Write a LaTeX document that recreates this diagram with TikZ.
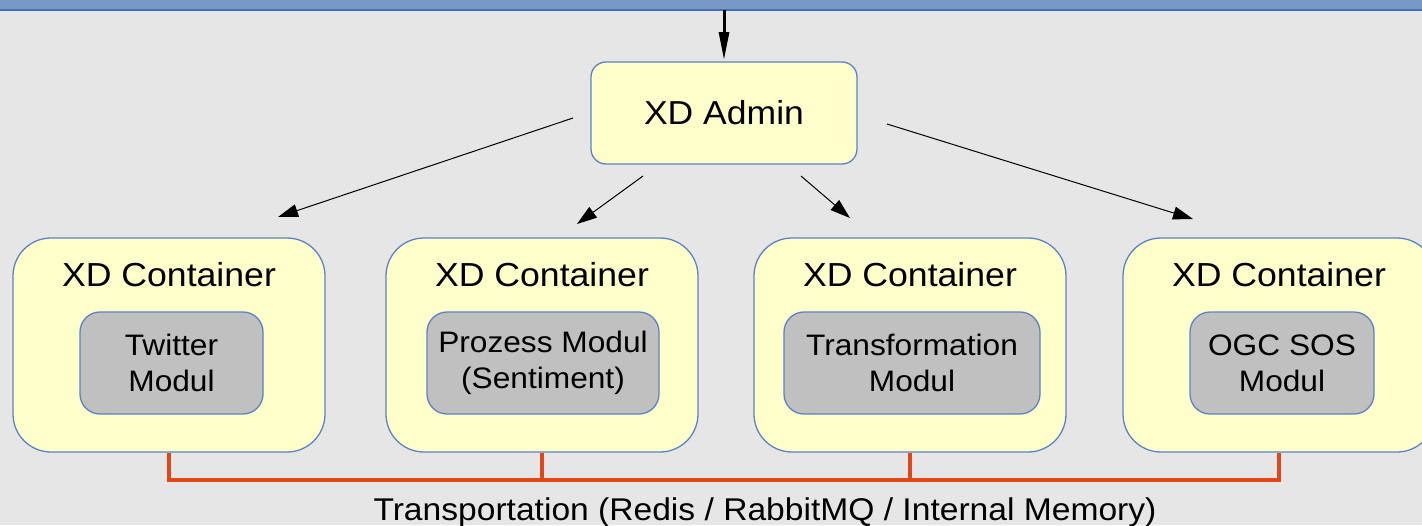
\documentclass[tikz,border=0pt]{standalone}
\usepackage{fontspec}
\setmainfont[FakeStretch=1.07]{Liberation Sans}
\usetikzlibrary{arrows.meta}
\definecolor{bg}{HTML}{E6E6E6}
\definecolor{barfill}{HTML}{7799C4}
\definecolor{barline}{HTML}{4170BD}
\definecolor{boxfill}{HTML}{FFFFCC}
\definecolor{boxline}{HTML}{5B83C6}
\definecolor{modfill}{HTML}{C0C0C0}
\definecolor{busline}{HTML}{E0481A}
\tikzset{
  adminbox/.style={draw=boxline, line width=1.3pt, fill=boxfill, rounded corners=15pt,
    minimum width=266pt, minimum height=102pt, inner sep=0pt,
    font=\fontsize{33.2}{38}\selectfont},
  containerbox/.style={draw=boxline, line width=1.3pt, fill=boxfill, rounded corners=38pt,
    minimum width=312pt, minimum height=214pt, inner sep=0pt},
  containerlabel/.style={anchor=base, inner sep=0pt, font=\fontsize{33.3}{38}\selectfont},
  modulebox/.style={draw=boxline, line width=1.3pt, fill=modfill, rounded corners=20pt,
    minimum height=102pt, inner sep=0pt, align=center,
    font=\fontsize{29.6}{36}\selectfont},
  fanarrow/.style={draw=black, line width=1pt, -{Triangle[length=20pt,width=13pt]}},
  feedarrow/.style={draw=black, line width=3pt, -{Triangle[length=28pt,width=10pt]}},
  bus/.style={draw=busline, line width=3.5pt},
}
\begin{document}
\begin{tikzpicture}[x=1pt, y=-1pt]
  \useasboundingbox (0,0) rectangle (1422,525);
  \clip (0,0) rectangle (1422,525);
  \fill[bg] (0,0) rectangle (1422,525);
  % header band
  \fill[barfill] (0,0) rectangle (1422,9.5);
  \draw[barline, line width=2pt] (0,9.5) -- (1422,9.5);

  % admin node and incoming feed
  \node[adminbox] (admin) at (724,113) {XD Admin};
  \coordinate (feed) at (724,10);
  \coordinate (feedend) at (724,60);
  \draw[feedarrow] (feed) -- (feedend);

  % containers with their modules
  \node[containerbox] (c1) at (169,345) {};
  \node[containerbox] (c2) at (542,345) {};
  \node[containerbox] (c3) at (910,345) {};
  \node[containerbox] (c4) at (1279,345) {};
  \node[containerlabel] (l1) at (169,286) {XD Container};
  \node[containerlabel] (l2) at (542,286) {XD Container};
  \node[containerlabel] (l3) at (910,286) {XD Container};
  \node[containerlabel] (l4) at (1279,286) {XD Container};
  \node[modulebox, minimum width=183pt] (m1) at (171.5,363) {Twitter\\Modul};
  \node[modulebox, minimum width=232pt] (m2) at (543,363) {Prozess Modul\\(Sentiment)};
  \node[modulebox, minimum width=256pt] (m3) at (912,363) {Transformation\\Modul};
  \node[modulebox, minimum width=184pt] (m4) at (1282,363) {OGC SOS\\Modul};

  % fan-out arrows from admin to containers
  \coordinate (s1) at (573,118);  \coordinate (t1) at (278,217);
  \coordinate (s2) at (643,176);  \coordinate (t2) at (577,224);
  \coordinate (s3) at (801,176);  \coordinate (t3) at (850,218);
  \coordinate (s4) at (887,124);  \coordinate (t4) at (1193,219);
  \draw[fanarrow] (s1) -- (t1);
  \draw[fanarrow] (s2) -- (t2);
  \draw[fanarrow] (s3) -- (t3);
  \draw[fanarrow] (s4) -- (t4);

  % transport bus
  \coordinate (busL) at (169,480);
  \coordinate (busR) at (1279,480);
  \draw[bus] (c1.south) -- (busL) -- (busR) -- (c4.south);
  \draw[bus] (c2.south) -- (c2.south |- busL);
  \draw[bus] (c3.south) -- (c3.south |- busL);
  \node[inner sep=0pt, anchor=base, font=\fontsize{31.4}{36}\selectfont] (transport) at (765,520)
    {Transportation (Redis / RabbitMQ / Internal Memory)};
\end{tikzpicture}
\end{document}
